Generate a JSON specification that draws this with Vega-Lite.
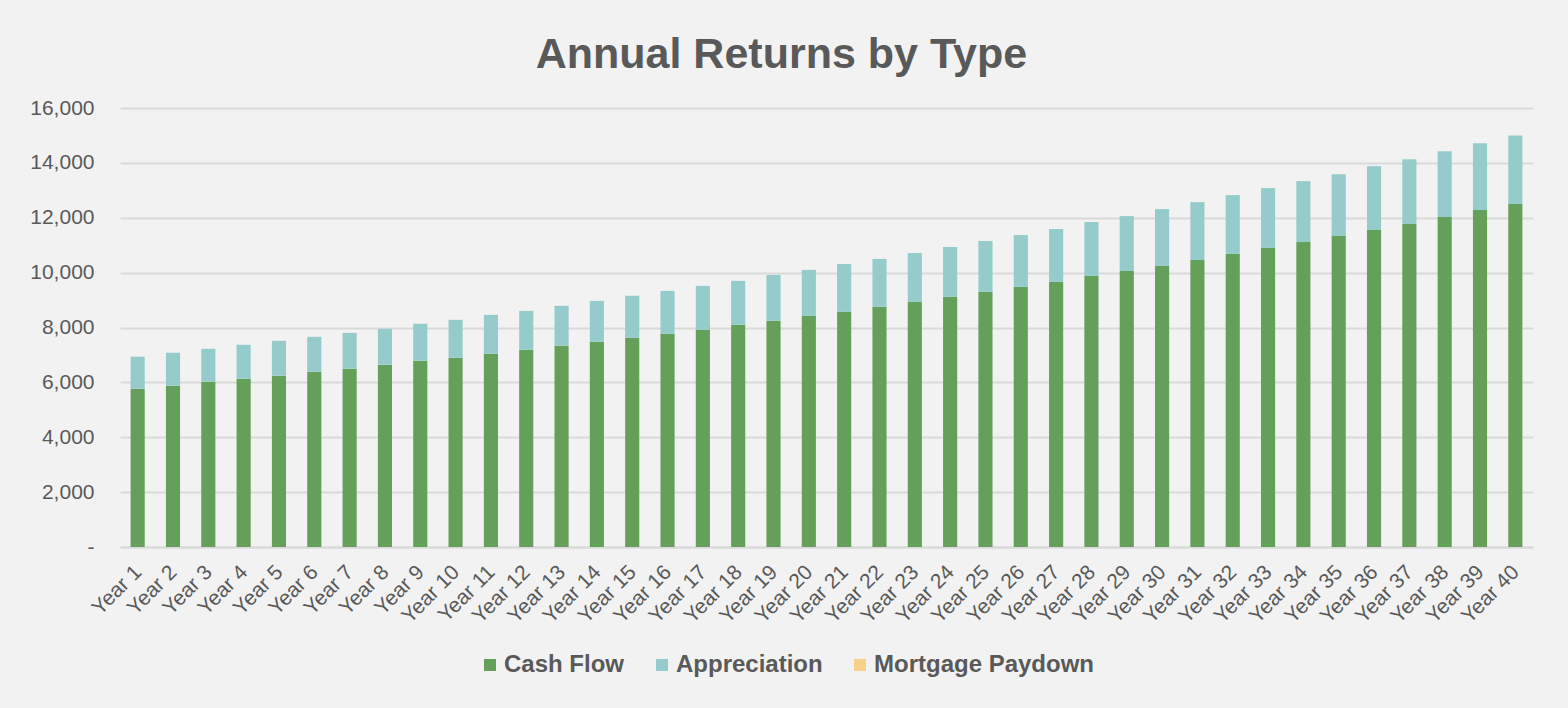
{
  "$schema": "https://vega.github.io/schema/vega-lite/v6.json",
  "width": 1413,
  "height": 439,
  "autosize": {"type": "none"},
  "padding": {"left": 120, "top": 108, "right": 35, "bottom": 161},
  "background": "#f2f2f2",
  "title": {
    "text": "Annual Returns by Type",
    "frame": "bounds",
    "anchor": "middle",
    "baseline": "alphabetic",
    "offset": -14,
    "fontSize": 43,
    "fontWeight": "bold",
    "font": "Liberation Sans",
    "color": "#595959"
  },
  "data": {
    "values": [
      {"year": "Year 1", "Cash Flow": 5770, "Appreciation": 1165, "Mortgage Paydown": 0},
      {"year": "Year 2", "Cash Flow": 5880, "Appreciation": 1200, "Mortgage Paydown": 0},
      {"year": "Year 3", "Cash Flow": 6025, "Appreciation": 1200, "Mortgage Paydown": 0},
      {"year": "Year 4", "Cash Flow": 6135, "Appreciation": 1235, "Mortgage Paydown": 0},
      {"year": "Year 5", "Cash Flow": 6245, "Appreciation": 1270, "Mortgage Paydown": 0},
      {"year": "Year 6", "Cash Flow": 6390, "Appreciation": 1270, "Mortgage Paydown": 0},
      {"year": "Year 7", "Cash Flow": 6500, "Appreciation": 1305, "Mortgage Paydown": 0},
      {"year": "Year 8", "Cash Flow": 6645, "Appreciation": 1305, "Mortgage Paydown": 0},
      {"year": "Year 9", "Cash Flow": 6790, "Appreciation": 1345, "Mortgage Paydown": 0},
      {"year": "Year 10", "Cash Flow": 6900, "Appreciation": 1380, "Mortgage Paydown": 0},
      {"year": "Year 11", "Cash Flow": 7045, "Appreciation": 1415, "Mortgage Paydown": 0},
      {"year": "Year 12", "Cash Flow": 7190, "Appreciation": 1415, "Mortgage Paydown": 0},
      {"year": "Year 13", "Cash Flow": 7335, "Appreciation": 1455, "Mortgage Paydown": 0},
      {"year": "Year 14", "Cash Flow": 7480, "Appreciation": 1490, "Mortgage Paydown": 0},
      {"year": "Year 15", "Cash Flow": 7625, "Appreciation": 1530, "Mortgage Paydown": 0},
      {"year": "Year 16", "Cash Flow": 7770, "Appreciation": 1565, "Mortgage Paydown": 0},
      {"year": "Year 17", "Cash Flow": 7915, "Appreciation": 1600, "Mortgage Paydown": 0},
      {"year": "Year 18", "Cash Flow": 8100, "Appreciation": 1600, "Mortgage Paydown": 0},
      {"year": "Year 19", "Cash Flow": 8245, "Appreciation": 1670, "Mortgage Paydown": 0},
      {"year": "Year 20", "Cash Flow": 8425, "Appreciation": 1675, "Mortgage Paydown": 0},
      {"year": "Year 21", "Cash Flow": 8570, "Appreciation": 1745, "Mortgage Paydown": 0},
      {"year": "Year 22", "Cash Flow": 8755, "Appreciation": 1745, "Mortgage Paydown": 0},
      {"year": "Year 23", "Cash Flow": 8935, "Appreciation": 1780, "Mortgage Paydown": 0},
      {"year": "Year 24", "Cash Flow": 9115, "Appreciation": 1820, "Mortgage Paydown": 0},
      {"year": "Year 25", "Cash Flow": 9300, "Appreciation": 1855, "Mortgage Paydown": 0},
      {"year": "Year 26", "Cash Flow": 9480, "Appreciation": 1890, "Mortgage Paydown": 0},
      {"year": "Year 27", "Cash Flow": 9660, "Appreciation": 1930, "Mortgage Paydown": 0},
      {"year": "Year 28", "Cash Flow": 9880, "Appreciation": 1965, "Mortgage Paydown": 0},
      {"year": "Year 29", "Cash Flow": 10060, "Appreciation": 2000, "Mortgage Paydown": 0},
      {"year": "Year 30", "Cash Flow": 10245, "Appreciation": 2070, "Mortgage Paydown": 0},
      {"year": "Year 31", "Cash Flow": 10460, "Appreciation": 2110, "Mortgage Paydown": 0},
      {"year": "Year 32", "Cash Flow": 10680, "Appreciation": 2145, "Mortgage Paydown": 0},
      {"year": "Year 33", "Cash Flow": 10900, "Appreciation": 2180, "Mortgage Paydown": 0},
      {"year": "Year 34", "Cash Flow": 11115, "Appreciation": 2220, "Mortgage Paydown": 0},
      {"year": "Year 35", "Cash Flow": 11335, "Appreciation": 2250, "Mortgage Paydown": 0},
      {"year": "Year 36", "Cash Flow": 11555, "Appreciation": 2325, "Mortgage Paydown": 0},
      {"year": "Year 37", "Cash Flow": 11775, "Appreciation": 2360, "Mortgage Paydown": 0},
      {"year": "Year 38", "Cash Flow": 12025, "Appreciation": 2400, "Mortgage Paydown": 0},
      {"year": "Year 39", "Cash Flow": 12280, "Appreciation": 2435, "Mortgage Paydown": 0},
      {"year": "Year 40", "Cash Flow": 12500, "Appreciation": 2500, "Mortgage Paydown": 0}
    ]
  },
  "transform": [
    {"fold": ["Cash Flow", "Appreciation", "Mortgage Paydown"], "as": ["type", "value"]}
  ],
  "mark": {"type": "bar"},
  "encoding": {
    "x": {
      "field": "year",
      "type": "ordinal",
      "sort": null,
      "scale": {"paddingInner": 0.6, "paddingOuter": 0.3},
      "axis": {
        "title": null,
        "labelAngle": -45,
        "labelFontSize": 21,
        "labelFont": "Liberation Sans",
        "labelColor": "#595959",
        "labelPadding": 14,
        "labelOffset": -7,
        "ticks": false,
        "domainColor": "#d9d9d9",
        "domainWidth": 2,
        "grid": false
      }
    },
    "y": {
      "field": "value",
      "type": "quantitative",
      "stack": "zero",
      "scale": {"domain": [0, 16000], "nice": false},
      "axis": {
        "title": null,
        "values": [0, 2000, 4000, 6000, 8000, 10000, 12000, 14000, 16000],
        "labelExpr": "datum.value == 0 ? '-' : format(datum.value, ',')",
        "labelFontSize": 21,
        "labelFont": "Liberation Sans",
        "labelColor": "#595959",
        "labelPadding": 26,
        "ticks": false,
        "domain": false,
        "gridColor": "#d9d9d9",
        "gridWidth": 2
      }
    },
    "color": {
      "field": "type",
      "type": "nominal",
      "sort": ["Cash Flow", "Appreciation", "Mortgage Paydown"],
      "scale": {
        "domain": ["Cash Flow", "Appreciation", "Mortgage Paydown"],
        "range": ["#64a05a", "#95cbcb", "#f7d08a"]
      },
      "legend": {
        "title": null,
        "orient": "none",
        "direction": "horizontal",
        "legendX": 358,
        "legendY": 545,
        "symbolType": "square",
        "symbolSize": 144,
        "symbolStrokeWidth": 0,
        "labelFontSize": 24,
        "labelFont": "Liberation Sans",
        "labelFontWeight": "bold",
        "labelColor": "#595959",
        "labelOffset": 2,
        "labelLimit": 0,
        "columnPadding": 25
      }
    },
    "order": {"field": "type", "sort": "descending"}
  },
  "config": {
    "view": {"stroke": null}
  }
}
